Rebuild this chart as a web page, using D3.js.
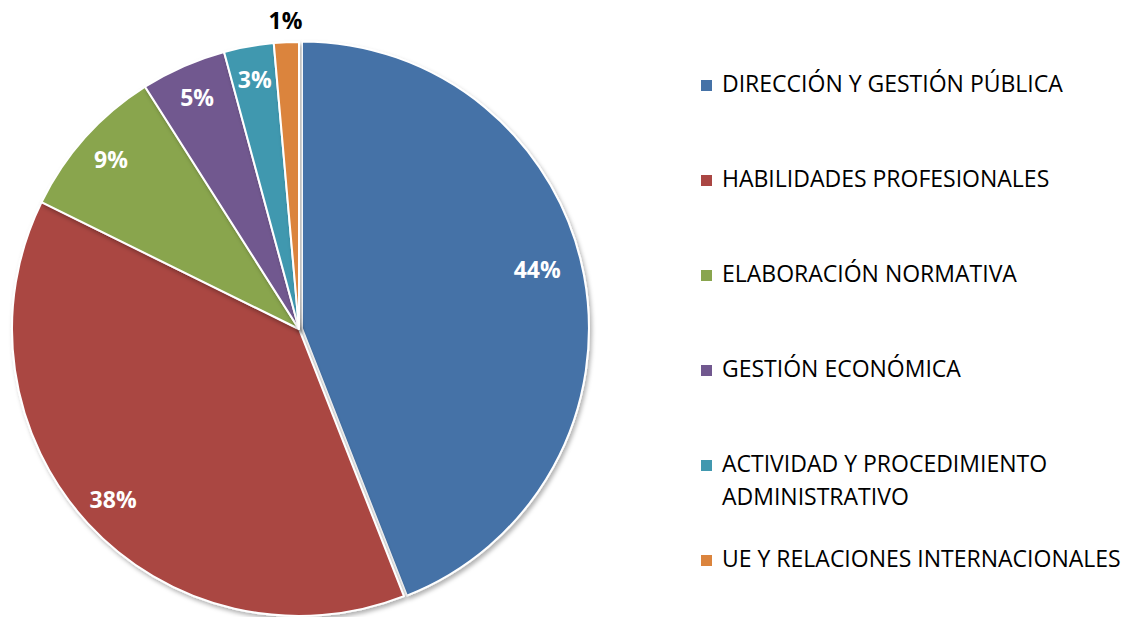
<!DOCTYPE html>
<html>
<head>
<meta charset="utf-8">
<script src="https://cdn.jsdelivr.net/npm/d3@7"></script>
<style>
  body { margin: 0; background: #fff; }
  svg { display: block; }
</style>
</head>
<body>
<script>
// data (shares in %)
const categories = [
  "DIRECCIÓN Y GESTIÓN PÚBLICA",
  "HABILIDADES PROFESIONALES",
  "ELABORACIÓN NORMATIVA",
  "GESTIÓN ECONÓMICA",
  "ACTIVIDAD Y PROCEDIMIENTO ADMINISTRATIVO",
  "UE Y RELACIONES INTERNACIONALES"
]
const values = [44.0, 38.2, 8.7, 4.8, 2.8, 1.4]
const colors = ["#4572A7", "#AA4643", "#89A54E", "#71588F", "#4198AF", "#DB843D"]

const width = 1130, height = 617
const cx = 299, cy = 329, R = 287

const svg = d3.select("body").append("svg")
    .attr("width", width)
    .attr("height", height)

const defs = svg.append("defs")
defs.append("filter")
    .attr("id", "shadow")
    .attr("x", "-10%").attr("y", "-10%")
    .attr("width", "120%").attr("height", "120%")
  .append("feDropShadow")
    .attr("dx", 2).attr("dy", 3)
    .attr("stdDeviation", 2)
    .attr("flood-color", "#000")
    .attr("flood-opacity", 0.3)

const data = categories.map((c, i) => ({name: c, value: values[i], color: colors[i]}))

const pie = d3.pie().value(d => d.value).sort(null)
const arcs = pie(data)
const arc = d3.arc().innerRadius(0).outerRadius(R)
const labelArc = d3.arc().innerRadius(R * 0.88).outerRadius(R * 0.88)
const outerLabelArc = d3.arc().innerRadius(R * 1.075).outerRadius(R * 1.075)
const isSmall = d => (d.endAngle - d.startAngle) < 0.1

const g = svg.append("g").attr("transform", `translate(${cx}, ${cy})`)

// first (largest) slice is pulled out a little
const explode = a => {
    if (a.index !== 0) return "translate(0,0)"
    const mid = (a.startAngle + a.endAngle) / 2
    return `translate(${3 * Math.sin(mid)}, ${-3 * Math.cos(mid)})`
}

g.selectAll("path.slice")
    .data(arcs)
    .enter()
    .append("path")
    .attr("class", "slice")
    .attr("d", arc)
    .attr("transform", explode)
    .style("fill", d => d.data.color)
    .style("stroke", "#fff")
    .style("stroke-width", 2)
    .style("stroke-linejoin", "round")
    .attr("filter", "url(#shadow)")

const total = d3.sum(values)
g.selectAll("text.pct")
    .data(arcs)
    .enter()
    .append("text")
    .attr("class", "pct")
    .attr("transform", d => {
        let p = (isSmall(d) ? outerLabelArc : labelArc).centroid(d)
        // largest slice label sits a bit further in
        if (d.index === 0) p = [p[0] * 0.96, p[1] * 1.25]
        return `translate(${p[0]}, ${p[1]})`
    })
    .attr("dy", "0.35em")
    .style("text-anchor", "middle")
    .style("font-family", "'Open Sans', sans-serif")
    .style("font-weight", "bold")
    .style("font-size", "23px")
    .style("fill", d => isSmall(d) ? "#000" : "#fff")
    .text(d => Math.round(d.data.value / total * 100) + "%")

// legend
const legend = svg.append("g").attr("transform", "translate(701, 0)")
const maxWidth = 410

data.forEach((d, i) => {
    const y = 92 + 95 * i
    legend.append("rect")
        .attr("x", 0)
        .attr("y", y - 12)
        .attr("width", 11)
        .attr("height", 11)
        .style("fill", d.color)

    const t = legend.append("text")
        .attr("transform", `translate(21, ${y})`)
        .style("font-family", "'Open Sans', sans-serif")
        .style("font-size", "23px")
        .style("fill", "#000")

    // word wrap
    const words = d.name.split(" ")
    let line = []
    let lineNo = 0
    let tspan = t.append("tspan").attr("x", 0).attr("y", 0)
    words.forEach(w => {
        line.push(w)
        tspan.text(line.join(" "))
        if (tspan.node().getComputedTextLength() > maxWidth && line.length > 1) {
            line.pop()
            tspan.text(line.join(" "))
            line = [w]
            lineNo++
            tspan = t.append("tspan").attr("x", 0).attr("y", lineNo * 33).text(w)
        }
    })
})
</script>
</body>
</html>
